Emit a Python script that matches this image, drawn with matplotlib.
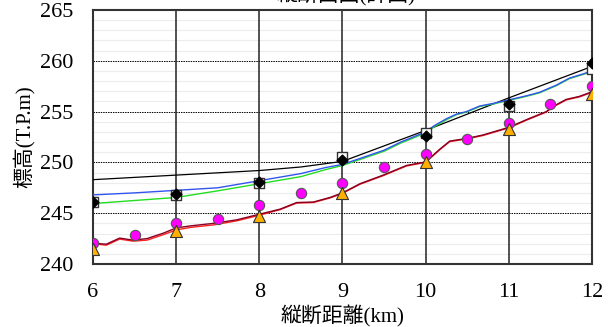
import matplotlib
matplotlib.use("Agg")
import matplotlib.pyplot as plt
from matplotlib.ticker import MultipleLocator

plt.rcParams['font.family'] = ['Liberation Serif', 'Noto Sans CJK JP']

# km posts
km = [6, 7, 8, 9, 10, 11, 12]

# black line (planned bed)
black_x = [6, 7, 8, 8.5, 9, 10, 11, 12]
black_y = [248.3, 248.75, 249.2, 249.55, 250.1, 253.15, 256.35, 259.45]

# blue line
blue_x = [6, 6.5, 7, 7.5, 8, 8.5, 8.8, 9, 9.5, 9.7, 10, 10.1, 10.25, 10.37, 10.49,
          10.65, 10.81, 10.97, 11.21, 11.37, 11.57, 11.73, 11.89, 12]
blue_y = [246.8, 247.0, 247.25, 247.5, 248.2, 248.9, 249.5, 249.8, 251.2, 252.0,
          253.0, 253.6, 254.3, 254.75, 255.0, 255.55, 255.8, 256.1, 256.55, 256.9,
          257.6, 258.3, 258.7, 259.0]

# green line
green_x = [6, 6.5, 7, 7.5, 8, 8.5, 8.8, 9, 9.5, 9.7, 10, 10.1, 10.25, 10.37, 10.49,
           10.65, 10.81, 10.97, 11.21, 11.37, 11.57, 11.73, 11.89, 12]
green_y = [245.95, 246.25, 246.55, 247.2, 247.9, 248.6, 249.3, 249.7, 251.1, 251.9,
           252.9, 253.5, 254.2, 254.7, 254.95, 255.5, 255.75, 256.05, 256.5, 256.85,
           257.55, 258.25, 258.65, 258.95]

# red / dark red lines (bed profiles)
red_x = [6, 6.16, 6.32, 6.48, 6.65, 6.85, 7, 7.17, 7.45, 7.73, 8, 8.25, 8.45,
         8.65, 8.85, 9, 9.21, 9.49, 9.77, 10, 10.17, 10.29, 10.49, 10.69, 11,
         11.21, 11.45, 11.53, 11.69, 11.85, 12]
red_y = [242.0, 241.85, 242.45, 242.25, 242.35, 242.9, 243.35, 243.6, 243.85,
         244.25, 244.8, 245.35, 246.0, 246.05, 246.5, 246.95, 247.85, 248.7,
         249.65, 250.0, 251.25, 252.05, 252.3, 252.65, 253.4, 254.15, 254.95,
         255.45, 256.15, 256.45, 256.9]
dred_y = [242.05, 241.95, 242.55, 242.35, 242.5, 243.05, 243.55, 243.75, 244.0,
          244.35, 244.9, 245.4, 246.05, 246.1, 246.55, 247.0, 247.9, 248.75,
          249.7, 250.05, 251.3, 252.1, 252.35, 252.7, 253.45, 254.2, 255.0,
          255.5, 256.2, 256.5, 256.95]

# magenta circles
mag_x = [6, 6.5, 7, 7.5, 8, 8.5, 9, 9.5, 10, 10.5, 11, 11.5, 12]
mag_y = [242.1, 242.9, 244.0, 244.4, 245.8, 247.0, 248.0, 249.5, 250.8, 252.3,
         253.9, 255.7, 257.55]

# orange triangles
tri_y = [241.45, 243.25, 244.75, 247.0, 250.0, 253.25, 256.7]

# black diamonds and white squares
dia_y = [246.15, 246.85, 248.05, 250.2, 252.6, 255.75, 259.75]
sq_y = [246.15, 246.8, 248.0, 250.5, 252.9, 255.6, 259.2]

fig = plt.figure(figsize=(6.08, 3.27), dpi=100)
ax = fig.add_axes([93 / 608, 1 - 264 / 327, (592 - 93) / 608, (264 - 10) / 327])

ax.set_xlim(6, 12)
ax.set_ylim(240, 265)
ax.xaxis.set_major_locator(MultipleLocator(1))
ax.yaxis.set_major_locator(MultipleLocator(5))
ax.yaxis.set_minor_locator(MultipleLocator(1))

ax.yaxis.grid(True, which='minor', color='#ececec', lw=0.8, ls='-')
ax.yaxis.grid(True, which='major', color='black', lw=0.7, ls=(0, (1.5, 1)))
ax.set_axisbelow(True)
# vertical km lines drawn above the faint minor grid
ax.vlines(km, 240, 265, colors='#222222', lw=1.1, zorder=1)

ax.plot(black_x, black_y, color='black', lw=0.9, zorder=3)
ax.plot(green_x, green_y, color='#22dd22', lw=1.0, zorder=3)
ax.plot(blue_x, blue_y, color='#3355ee', lw=1.0, zorder=3)
ax.plot(red_x, red_y, color='#ff2020', lw=1.0, zorder=3)
ax.plot(red_x, dred_y, color='#880022', lw=1.0, zorder=3)

ax.scatter(km, sq_y, marker='s', s=55, facecolor='white', edgecolor='#333333',
           lw=1.0, zorder=5)
ax.scatter(km, dia_y, marker='D', s=30, facecolor='black', edgecolor='black',
           zorder=6)
ax.scatter(mag_x, mag_y, marker='o', s=55, facecolor='#ff00ff', edgecolor='#555555',
           lw=0.8, zorder=6)
ax.scatter(km, tri_y, marker='^', s=75, facecolor='#ffb000', edgecolor='#333333',
           lw=0.8, zorder=6)

for s in ax.spines.values():
    s.set_color('#333333')
    s.set_linewidth(1.5)

ax.tick_params(which='both', length=0, labelsize=16)
ax.tick_params(axis='x', pad=14)
ax.tick_params(axis='y', pad=14)

ax.set_xlabel('縦断距離(km)', fontsize=15, labelpad=2)
ax.set_ylabel('標高(T.P.m)', fontsize=15, labelpad=4)

fig.text(0.57, 1 + 5 / 327, '縦断面図(計画)', fontsize=15, ha='center', va='center')

fig.savefig('out.png', dpi=100)
